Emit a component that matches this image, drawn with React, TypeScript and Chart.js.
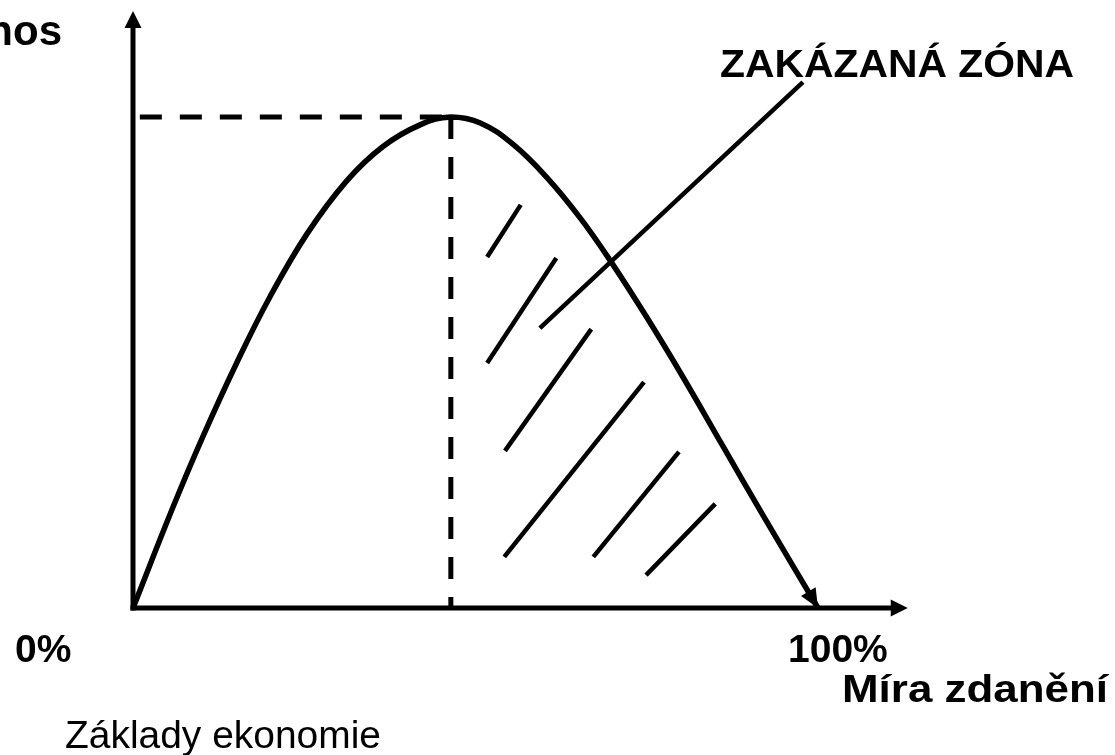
import { useEffect, useRef } from "react";
import { Chart, registerables } from "chart.js";

Chart.register(...registerables);

// Laffer curve: tax rate (%) -> tax revenue (relative, peak = 100)
const curveX = [0, 5.8, 10.2, 15.2, 20.0, 25.4, 31.2, 36.5, 41.9, 46.4, 50.7, 55.5, 60.4, 65.3, 69.6, 75.0, 80.3, 86.1, 92.0, 100];
const curveY = [0, 20.4, 34.9, 50.1, 63.4, 76.2, 87.0, 94.0, 98.4, 100, 98.8, 94.4, 87.7, 79.4, 70.9, 59.2, 47.0, 33.0, 18.8, 0];

const peakX = 46.4;
const peakY = 100;
const dashStartX = 1.0;

// hatching of the forbidden zone (segment start / end)
const hatchStartX = [56.6, 61.8, 66.9, 74.6, 79.7, 85.0];
const hatchStartY = [82.1, 71.3, 56.8, 46.0, 31.8, 21.2];
const hatchEndX = [51.7, 51.7, 54.3, 54.2, 67.2, 74.9];
const hatchEndY = [71.5, 49.9, 32.0, 10.4, 10.4, 6.7];

// pointer from the label to the zone
const pointerX = [59.4, 97.8];
const pointerY = [57.0, 107.1];

// axis extents (beyond the plotted range, with arrows)
const axisXEnd = 113.1;
const axisYEnd = 121.6;

const yTitle = "Daňový výnos";
const xTitle = "Míra zdanění";
const zoneLabel = "ZAKÁZANÁ ZÓNA";
const tickLabels = ["0%", "100%"];
const footer = "Základy ekonomie";

function drawArrow(ctx: CanvasRenderingContext2D, tx: number, ty: number, dx: number, dy: number, len: number, half: number) {
  const l = Math.hypot(dx, dy);
  const ux = dx / l, uy = dy / l;
  const bx = tx - ux * len, by = ty - uy * len;
  ctx.beginPath();
  ctx.moveTo(tx, ty);
  ctx.lineTo(bx - uy * half, by + ux * half);
  ctx.lineTo(bx + uy * half, by - ux * half);
  ctx.closePath();
  ctx.fill();
}

function fitText(ctx: CanvasRenderingContext2D, text: string, font: string, x: number, y: number, targetW: number | null, align: "left" | "right" = "left") {
  ctx.save();
  ctx.font = font;
  ctx.textBaseline = "alphabetic";
  ctx.textAlign = "left";
  const w = ctx.measureText(text).width;
  const sx = targetW ? targetW / w : 1;
  const left = align === "right" ? x - w * sx : x;
  ctx.translate(left, y);
  ctx.scale(sx, 1);
  ctx.fillText(text, 0, 0);
  ctx.restore();
}

const overlay = {
  id: "lafferOverlay",
  afterDatasetsDraw(chart: any) {
    const ctx: CanvasRenderingContext2D = chart.ctx;
    const xs = chart.scales.x, ys = chart.scales.y;
    const x0 = xs.getPixelForValue(0), y0 = ys.getPixelForValue(0);
    const xEnd = xs.getPixelForValue(axisXEnd), yEnd = ys.getPixelForValue(axisYEnd);
    ctx.save();
    ctx.strokeStyle = "#000";
    ctx.fillStyle = "#000";
    ctx.lineWidth = 5;
    ctx.lineCap = "butt";
    // y axis
    ctx.beginPath();
    ctx.moveTo(x0, y0 + 2.5);
    ctx.lineTo(x0, yEnd + 12);
    ctx.stroke();
    drawArrow(ctx, x0, yEnd, 0, -1, 17, 8.5);
    // x axis
    ctx.beginPath();
    ctx.moveTo(x0 - 2.5, y0);
    ctx.lineTo(xEnd - 12, y0);
    ctx.stroke();
    drawArrow(ctx, xEnd, y0, 1, 0, 17, 8.5);
    // curve end arrow
    const n = curveX.length;
    const tx = xs.getPixelForValue(curveX[n - 1]), ty = ys.getPixelForValue(curveY[n - 1]);
    const px = xs.getPixelForValue(curveX[n - 2]), py = ys.getPixelForValue(curveY[n - 2]);
    drawArrow(ctx, tx, ty, tx - px, ty - py, 19, 8.5);

    // texts
    const bold = (s: number) => `bold ${s}px "Liberation Sans", Arial, sans-serif`;
    fitText(ctx, yTitle, bold(42), 62, 45, null, "right");
    fitText(ctx, zoneLabel, bold(38), 720, 77, 354);
    fitText(ctx, tickLabels[0], bold(39), 15, 662, null);
    fitText(ctx, tickLabels[1], bold(39), 788, 662, null);
    fitText(ctx, xTitle, bold(39), 842, 702, 266);
    fitText(ctx, footer, `38px "Liberation Sans", Arial, sans-serif`, 65, 748, 316);
    ctx.restore();
  },
};

export default function App() {
  const ref = useRef<HTMLCanvasElement | null>(null);
  useEffect(() => {
    if (!ref.current) return;
    const seg = (ax: number, ay: number, bx: number, by: number) => [
      { x: ax, y: ay },
      { x: bx, y: by },
    ];
    const line = (data: any[], width: number, extra: any = {}) => ({
      data,
      showLine: true,
      borderColor: "#000",
      backgroundColor: "#000",
      borderWidth: width,
      pointRadius: 0,
      pointHoverRadius: 0,
      fill: false,
      clip: false,
      borderCapStyle: "butt",
      ...extra,
    });
    const datasets: any[] = [
      line(
        curveX.map((x, i) => ({ x, y: curveY[i] })),
        5.5,
        { tension: 0.4, borderJoinStyle: "round" }
      ),
      line(seg(dashStartX, peakY, peakX, peakY), 5, { borderDash: [22, 18] }),
      line(seg(peakX, peakY, peakX, 0), 5, { borderDash: [22, 18] }),
      line(seg(pointerX[0], pointerY[0], pointerX[1], pointerY[1]), 4.5),
    ];
    hatchStartX.forEach((_, i) => {
      datasets.push(line(seg(hatchStartX[i], hatchStartY[i], hatchEndX[i], hatchEndY[i]), 4.5));
    });
    const chart = new Chart(ref.current, {
      type: "scatter",
      data: { datasets },
      options: {
        animation: false,
        responsive: false,
        maintainAspectRatio: false,
        devicePixelRatio: 1,
        layout: { padding: { left: 133, right: 297, top: 117, bottom: 147 } },
        plugins: { legend: { display: false }, tooltip: { enabled: false } },
        events: [],
        scales: {
          x: { type: "linear", min: 0, max: 100, display: false },
          y: { type: "linear", min: 0, max: 100, display: false },
        },
      },
      plugins: [overlay],
    });
    return () => chart.destroy();
  }, []);
  return (
    <div style={{ position: "fixed", left: 0, top: 0, width: 1115, height: 755, background: "#fff" }}>
      <canvas ref={ref} width={1115} height={755} style={{ display: "block", width: 1115, height: 755 }} />
    </div>
  );
}
